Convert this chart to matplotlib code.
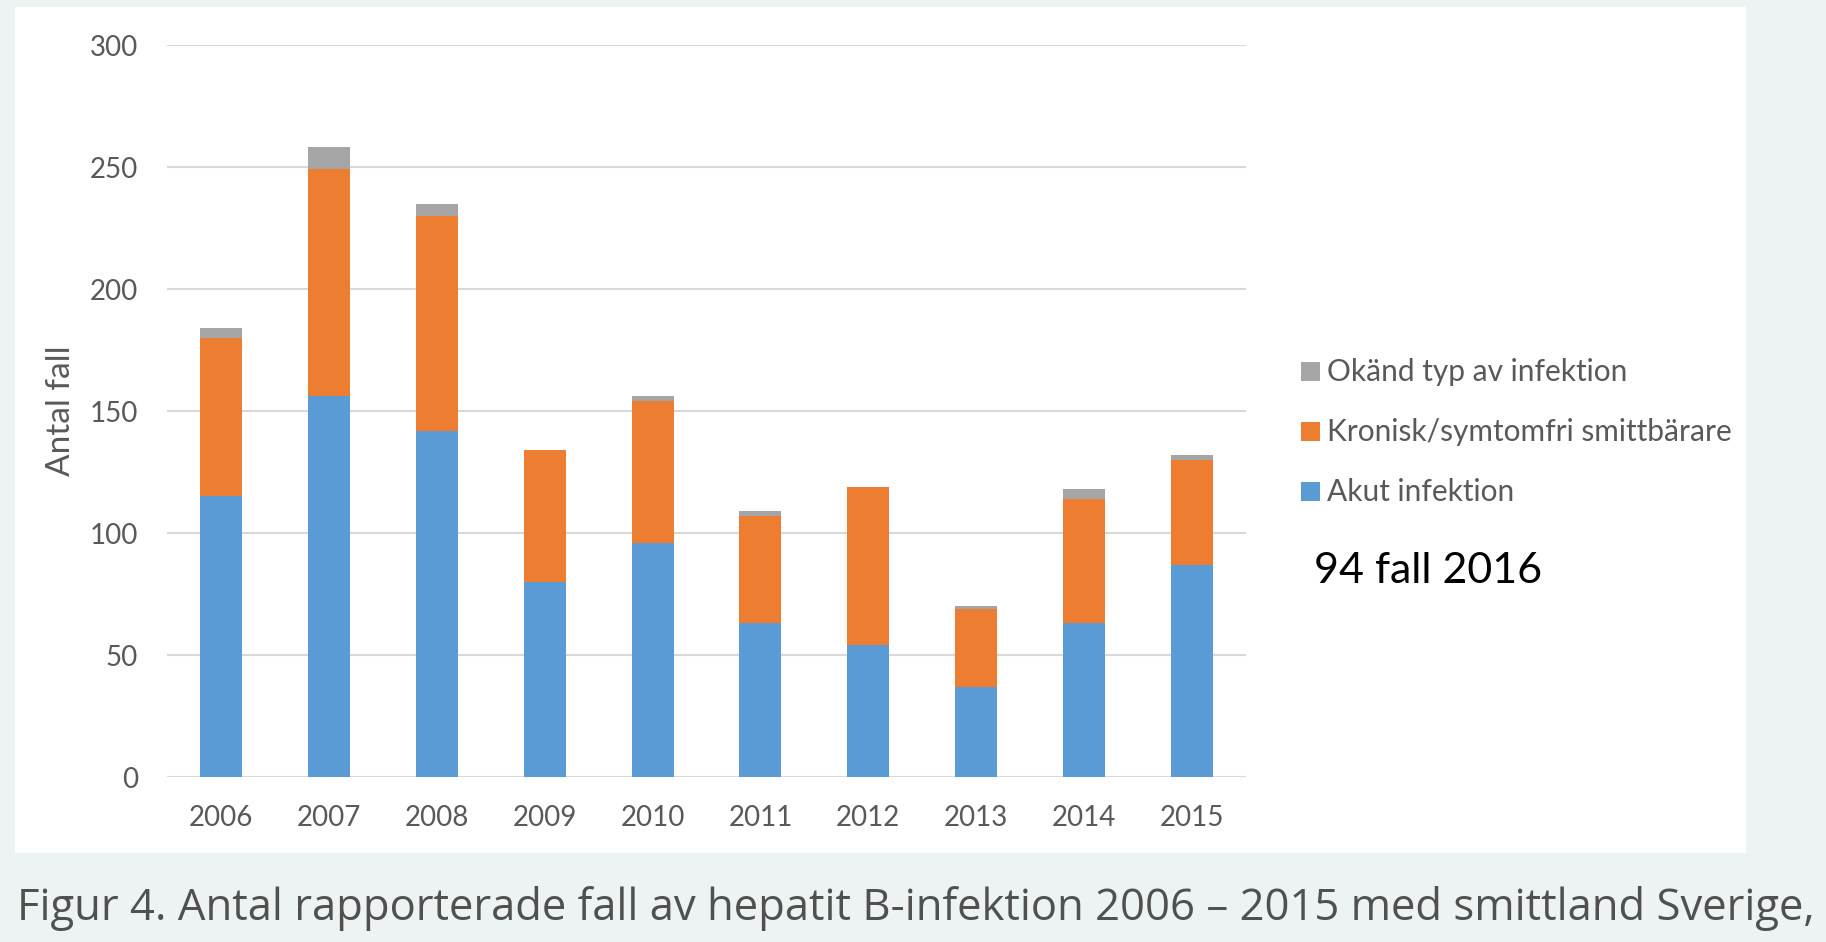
import matplotlib
matplotlib.use("Agg")
import matplotlib.pyplot as plt
from matplotlib.patches import Rectangle
import numpy as np

# ---- data ----
years = ["2006", "2007", "2008", "2009", "2010", "2011", "2012", "2013", "2014", "2015"]
akut = [115, 156, 142, 80, 96, 63, 54, 37, 63, 87]
kronisk = [65, 93, 88, 54, 58, 44, 65, 32, 51, 43]
okand = [4, 9, 5, 0, 2, 2, 0, 1, 4, 2]
series_names = ["Akut infektion", "Kronisk/symtomfri smittbärare", "Okänd typ av infektion"]
series_colors = ["#5B9BD5", "#ED7D31", "#A5A5A5"]
y_ticks = [0, 50, 100, 150, 200, 250, 300]
y_label = "Antal fall"
note_text = "94 fall 2016"
caption = "Figur 4. Antal rapporterade fall av hepatit B-infektion 2006 \u2013 2015 med smittland Sverige,"

W, H = 1826, 942
fig = plt.figure(figsize=(W / 100, H / 100), dpi=100)
fig.patch.set_facecolor("#EDF2F2")

# white chart box (behind everything)
fig.patches.append(Rectangle((15 / W, 1 - 853 / H), (1746 - 15) / W, (853 - 7) / H,
                             transform=fig.transFigure, facecolor="white",
                             edgecolor="none", zorder=-5))

chart_font = ["Lato", "DejaVu Sans"]
txt_col = "#595959"

ax = fig.add_axes([167 / W, 1 - 777 / H, 1079 / W, 732 / H])
ax.set_facecolor("none")
ax.set_zorder(1)
x = np.arange(len(years))
bw = 0.39
bottoms = np.zeros(len(years))
for vals, col in zip([akut, kronisk, okand], series_colors):
    ax.bar(x, vals, bw, bottom=bottoms, color=col, zorder=3, linewidth=0)
    bottoms = bottoms + np.array(vals)

ax.set_xlim(-0.5, len(years) - 0.5)
ax.set_ylim(0, 300)
ax.set_yticks(y_ticks)
ax.set_yticklabels([str(v) for v in y_ticks])
ax.set_xticks(x)
ax.set_xticklabels(years)
for lab in ax.get_xticklabels() + ax.get_yticklabels():
    lab.set_family(chart_font)
    lab.set_fontsize(20)
    lab.set_color(txt_col)
ax.tick_params(axis="y", length=0, pad=21)
ax.tick_params(axis="x", length=0, pad=20)
for s in ax.spines.values():
    s.set_visible(False)
ax.yaxis.grid(True, color="#D9D9D9", linewidth=1.5, zorder=0)
ax.set_axisbelow(True)
ax.set_ylabel(y_label, family=chart_font, fontsize=24, color=txt_col, labelpad=10)

# legend (top entry = last series)
rows_baseline = [381, 441, 501]
sq = 19
for i, (name, col) in enumerate(zip(series_names[::-1], series_colors[::-1])):
    yb = rows_baseline[i]
    fig.patches.append(Rectangle((1301 / W, 1 - yb / H), sq / W, sq / H,
                                 transform=fig.transFigure, facecolor=col,
                                 edgecolor="none", zorder=2))
    fig.text(1327 / W, 1 - yb / H, name, family=chart_font, fontsize=21.5,
             color=txt_col, va="baseline", ha="left")

fig.text(1314 / W, 1 - 583 / H, note_text, family=chart_font, fontsize=31,
         color="black", va="baseline", ha="left")

# caption, fitted to measured width
cap = fig.text(17 / W, 1 - 920 / H, caption,
               family=["Open Sans", "DejaVu Sans"], fontsize=30,
               color="#505050", va="baseline", ha="left")
r = fig.canvas.get_renderer()
wpx = cap.get_window_extent(r).width
cap.set_fontsize(30 * (1799 / wpx))

fig.savefig("out.png", dpi=100, facecolor=fig.get_facecolor())
